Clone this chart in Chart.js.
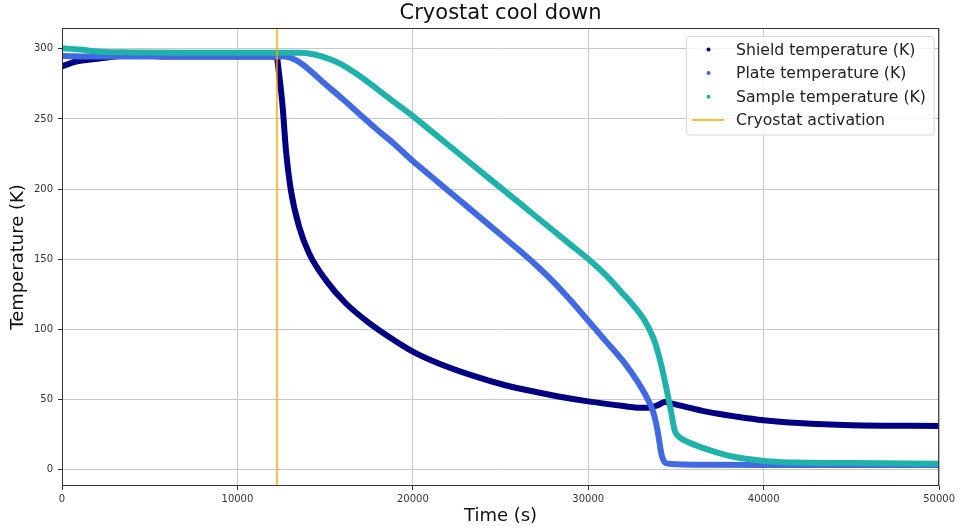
<!DOCTYPE html>
<html>
<head>
<meta charset="utf-8">
<title>Cryostat cool down</title>
<script src="https://cdn.jsdelivr.net/npm/chart.js@4/dist/chart.umd.min.js"></script>
<style>
    body { margin: 0; background: #fff; }
</style>
</head>
<body>
<canvas id="grafico" width="958" height="531"></canvas>
<script>
"use strict";

////////////////////////////////////////////////////// datos
var titulo = "Cryostat cool down";

var shieldTime = [0, 800, 2000, 3000, 4000, 5000, 6000, 9000, 12250, 12300, 12575, 12765, 13050, 13520, 14090, 15040,
    16175, 17500, 18825, 20000, 21480, 23370, 25270, 27160, 28300, 30000, 31900, 33000, 33500, 34000, 34360, 34900,
    36800, 38500, 40000, 42000, 45000, 50000];
var shieldTemp = [287.5, 291, 293, 294.5, 295.8, 295, 294.5, 294.5, 294.5, 290, 259, 228, 199, 173, 154, 135,
    118.5, 104.5, 93, 84, 75.5, 67, 60, 54.8, 52, 48.5, 45.3, 44, 44, 46, 48, 46.5,
    41, 37.5, 35, 33, 31.5, 31];

var plateTime = [0, 2000, 12000, 12700, 13200, 13700, 14200, 14850, 16000, 17000, 18000, 19000, 20000, 21000, 22000,
    23000, 24000, 25000, 26000, 27000, 28000, 29000, 30000, 31000, 32000, 32840, 33410, 33700, 33880, 34000, 34170,
    34360, 34600, 35100, 37000, 40000, 50000];
var plateTemp = [295, 294.5, 294.5, 294.5, 292.7, 289, 283.8, 276.6, 264.2, 253, 242, 231.5, 220, 209.5, 199,
    188.5, 178, 167.5, 157, 146, 134, 120.5, 106, 91.5, 77, 62, 49.5, 41, 32, 24, 11,
    5, 4, 3.6, 3.2, 3, 3];

var sampleTime = [0, 1000, 2160, 4000, 8000, 13500, 13900, 14850, 15800, 16740, 17690, 18640, 20000, 21000, 22000,
    23000, 24000, 25000, 26000, 27000, 28000, 29000, 30000, 31000, 32000, 32600, 33220, 33790, 34170, 34450, 34740,
    34920, 35100, 35490, 36000, 36820, 38140, 40000, 41930, 45000, 50000];
var sampleTemp = [300.5, 299.5, 298, 297.5, 297.3, 297.3, 297, 294.5, 289.8, 282.6, 274, 264.8, 252, 241.8, 231.6,
    221.4, 211.2, 201, 190.8, 180.6, 170.4, 160.2, 150, 138.5, 125, 116.5, 106, 91, 74, 58, 40,
    28, 24, 20.7, 17.8, 14, 9.3, 6, 4.8, 4.5, 4];

var activationTime = 12250;

var xTicks = [0, 10000, 20000, 30000, 40000, 50000];
var yTicks = [0, 50, 100, 150, 200, 250, 300];
var xMin = 0, xMax = 50000;
var yMin = -11.9, yMax = 314.9;

////////////////////////////////////////////////////// puntos
function puntos(xs, ys) {
    var res = [];
    for (var i = 0; i < xs.length; i++) {
        res.push({ x: xs[i], y: ys[i] });
    }
    return res;
}

function serie(label, data, color, orden) {
    return {
        label: label,
        data: data,
        borderColor: color,
        backgroundColor: color,
        borderWidth: 6,
        borderCapStyle: "round",
        borderJoinStyle: "round",
        pointRadius: 0,
        cubicInterpolationMode: "monotone",
        clip: 0,
        order: orden,
    };
}

var datasets = [
    serie("Shield temperature (K)", puntos(shieldTime, shieldTemp), "#000080", 3),
    serie("Plate temperature (K)", puntos(plateTime, plateTemp), "#4169e1", 2),
    serie("Sample temperature (K)", puntos(sampleTime, sampleTemp), "#20b2aa", 1),
    {
        label: "Cryostat activation",
        data: [{ x: activationTime, y: yMin }, { x: activationTime, y: yMax }],
        borderColor: "rgba(255,165,0,0.75)",
        borderWidth: 2,
        pointRadius: 0,
        clip: 0,
        order: 0,
    },
];

////////////////////////////////////////////////////// titulo, leyenda y marco (estilo matplotlib)
var marcoLeyenda = {
    id: "marcoLeyenda",
    afterDraw: function (chart) {
        var ctx = chart.ctx;
        var a = chart.chartArea;
        ctx.save();
        // marco completo del eje
        ctx.strokeStyle = "#333";
        ctx.lineWidth = 1;
        ctx.strokeRect(a.left + 0.5, a.top + 0.5, a.right - a.left - 1, a.bottom - a.top - 1);

        // titulo centrado sobre el area del grafico
        ctx.fillStyle = "#111";
        ctx.font = "21px 'DejaVu Sans'";
        ctx.textAlign = "center";
        ctx.textBaseline = "middle";
        ctx.fillText(titulo, (a.left + a.right) / 2, 14);

        // caja de la leyenda
        var bx = 686.5, by = 36.5, bw = 247.5, bh = 98.5, r = 3;
        ctx.beginPath();
        ctx.moveTo(bx + r, by);
        ctx.arcTo(bx + bw, by, bx + bw, by + bh, r);
        ctx.arcTo(bx + bw, by + bh, bx, by + bh, r);
        ctx.arcTo(bx, by + bh, bx, by, r);
        ctx.arcTo(bx, by, bx + bw, by, r);
        ctx.closePath();
        ctx.fillStyle = "rgba(255,255,255,0.8)";
        ctx.fill();
        ctx.strokeStyle = "#d6d6d6";
        ctx.stroke();

        var filas = [49.5, 73, 96.7, 120];
        ctx.font = "15.7px 'DejaVu Sans'";
        ctx.textBaseline = "middle";
        ctx.textAlign = "left";
        chart.data.datasets.forEach(function (ds, i) {
            var y = filas[i];
            if (i < 3) {
                ctx.fillStyle = ds.borderColor;
                ctx.beginPath();
                ctx.arc(708.5, y, 2, 0, Math.PI * 2);
                ctx.fill();
            } else {
                ctx.strokeStyle = ds.borderColor;
                ctx.lineWidth = 2;
                ctx.beginPath();
                ctx.moveTo(692, y);
                ctx.lineTo(724, y);
                ctx.stroke();
            }
            ctx.fillStyle = "#222";
            ctx.fillText(ds.label, 736, y + 1);
        });
        ctx.restore();
    },
};

////////////////////////////////////////////////////// MAIN
Chart.defaults.font.family = "'DejaVu Sans'";
Chart.defaults.color = "#333";

var ctx = document.getElementById("grafico").getContext("2d");
new Chart(ctx, {
    type: "line",
    data: { datasets: datasets },
    plugins: [marcoLeyenda],
    options: {
        responsive: false,
        animation: false,
        devicePixelRatio: 1,
        layout: { padding: { right: 17, left: 0, bottom: 0, top: 28 } },
        plugins: {
            legend: { display: false },
            tooltip: { enabled: false },
            title: { display: false },
        },
        scales: {
            x: {
                type: "linear",
                min: xMin,
                max: xMax,
                afterBuildTicks: function (s) {
                    s.ticks = xTicks.map(function (v) { return { value: v }; });
                },
                afterFit: function (s) { s.height = 45; },
                ticks: {
                    font: { size: 10 },
                    color: "#333",
                    padding: 3,
                    maxRotation: 0,
                    autoSkip: false,
                    callback: function (v) { return String(v); },
                },
                grid: { color: "#c8c8c8", tickColor: "#333", tickLength: 4 },
                border: { display: false },
                title: {
                    display: true,
                    text: "Time (s)",
                    color: "#111",
                    font: { size: 18 },
                    padding: { top: 0, bottom: 4 },
                },
            },
            y: {
                type: "linear",
                min: yMin,
                max: yMax,
                afterBuildTicks: function (s) {
                    s.ticks = yTicks.map(function (v) { return { value: v }; });
                },
                afterFit: function (s) { s.width = 62; },
                ticks: {
                    font: { size: 10 },
                    color: "#333",
                    padding: 5,
                    autoSkip: false,
                    callback: function (v) { return String(v); },
                },
                grid: { color: "#c8c8c8", tickColor: "#333", tickLength: 4 },
                border: { display: false },
                title: {
                    display: true,
                    text: "Temperature (K)",
                    color: "#111",
                    font: { size: 18 },
                    padding: { top: 8, bottom: 0 },
                },
            },
        },
    },
});
</script>
</body>
</html>
